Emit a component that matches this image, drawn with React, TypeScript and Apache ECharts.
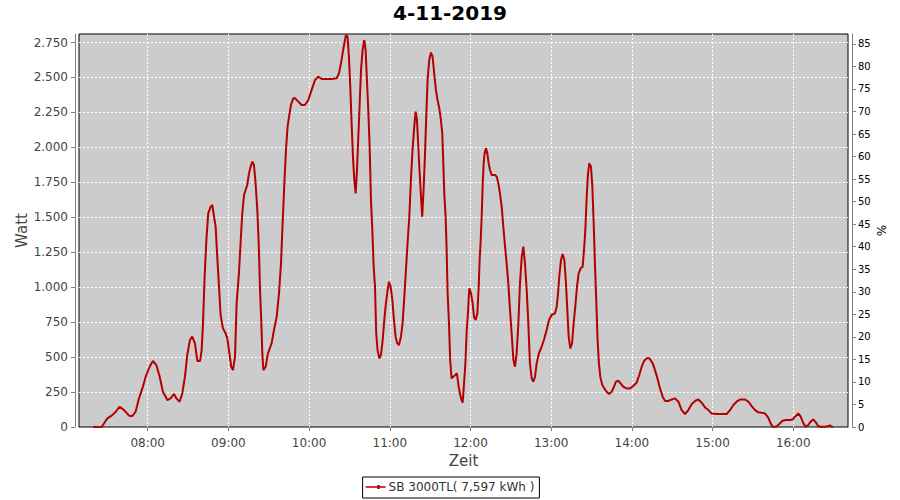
import React, { useEffect, useRef } from 'react';
import * as echarts from 'echarts';

const chartTitle = '4-11-2019';
const seriesName = 'SB 3000TL( 7,597 kWh )';
const xAxisName = 'Zeit';
const leftAxisName = 'Watt';
const rightAxisName = '%';

// minutes since midnight
const timeMinutes = [
  439.3, 445.7, 450, 453.7, 456.2, 459.1, 462.4, 466.1, 468.5, 471,
  473.5, 476, 478.5, 481.4, 483.9, 486.4, 488.9, 491.3, 494.6, 497,
  499.5, 501.3, 503.7, 505.7, 507.7, 509.4, 511.4, 513.1, 515.1, 516.9,
  518.9, 520.1, 521.1, 522.3, 523.6, 525, 526.8, 528, 529.3, 530.5,
  531.7, 533, 534.2, 535.9, 537.9, 539.2, 540.9, 542.1, 543.4, 544.9,
  546.1, 547.8, 549.1, 550.3, 551.6, 552.8, 554, 555.3, 556.5, 557.8,
  559, 560.2, 561.5, 562.7, 563.5, 564.5, 565.2, 566, 567.7, 569.4,
  572.1, 573.9, 575.9, 577.6, 579.1, 580.3, 581.6, 582.8, 584, 585.3,
  586.5, 588.2, 589.5, 592, 594.4, 596.9, 599.4, 601.9, 604.4, 606.8,
  609.3, 613, 616.7, 620.5, 622.2, 623.7, 624.9, 626.2, 627.4, 628.6,
  629.6, 630.6, 631.6, 632.6, 633.6, 634.6, 635.6, 636.6, 637.6, 638.6,
  639.8, 641, 642, 643, 644, 645, 646, 647, 648, 649,
  649.9, 650.9, 652.2, 653.4, 654.7, 655.9, 657.1, 658.4, 659.4, 660.6,
  661.9, 663.1, 664.3, 665.6, 666.8, 668.3, 669.5, 670.8, 672, 673.2,
  674.5, 675.7, 676.9, 678.2, 679.2, 680.2, 681.2, 682.2, 683.2, 684.1,
  685.1, 686.1, 687.1, 688.1, 689.3, 690.6, 691.8, 693, 694.3, 695.5,
  696.8, 698, 699, 699.8, 700.5, 701.5, 702.2, 703, 704, 704.9,
  705.9, 707.2, 708.7, 709.9, 711.2, 712.4,
  713.4, 714.2, 715.2, 716.2, 717.2, 718.1, 719.1, 720.4, 721.6, 722.6,
  723.8, 725.1, 726.1, 726.8, 727.6, 728.3, 729.1, 729.8, 730.5, 731.5,
  732.5, 733.5, 734.5, 735.7, 738.2, 739.5, 740.7, 741.9, 743.2, 744.4,
  745.7, 746.9, 748.1, 749.4, 750.6, 751.9, 753.1, 754.3, 755.6, 756.8,
  758.1, 759.3, 760.5, 761.8, 763, 764.2, 765.5, 766.7, 768, 769.2,
  770.9, 772.9, 774.6, 776.6, 778.4, 780.3, 782.8, 784.1, 785.1, 786,
  787.3, 788.5, 789.8, 791, 792, 793, 794.2, 795.5, 796.7, 797.9,
  799.2, 800.4, 801.9, 803.4, 804.4, 805.4, 806.4, 807.4, 808.3, 809.6,
  810.6, 811.6, 812.6, 813.6, 814.5, 815.5, 816.5, 818, 819.5, 821.2,
  823, 825, 826.7, 828.2, 829.9, 831.6, 833.6, 836.1, 838.6, 841,
  843.5, 845.5, 847.3, 849, 851, 853, 854.7,
  855.5, 857.2, 859, 860.9, 862.9, 864.7, 867.1, 869.6, 872.1, 874.6,
  877, 879.5, 882, 884.5, 887, 889.4, 891.9, 894.4, 896.9, 899.3,
  903.1, 906.8, 910.5, 913, 915.5, 917.9, 920.4, 924.1, 926.6, 929.1,
  931.6, 934, 936.5, 939, 941.5, 943.2, 944.7, 947.2, 949.6, 952.1,
  954.6, 957.6, 959.6, 961.3, 963.8, 965.5, 967.5, 969.2, 971.2, 972.9,
  974.9, 976.9, 978.6, 980.4, 983.6, 986.1, 987.3, 988.6, 989.8
];

const wattValues = [
  0, 0, 62, 85, 109, 145, 121, 81, 78, 109,
  205, 276, 360, 431, 472, 443, 360, 252, 193, 205,
  236, 205, 181, 240, 360, 515, 622, 646, 598, 472,
  472, 550, 741, 1075, 1337, 1528, 1576, 1588, 1504, 1433,
  1218, 1004, 801, 706, 670, 634, 515, 431, 407, 503,
  884, 1099, 1326, 1528, 1659, 1695, 1731, 1814, 1862, 1898,
  1874, 1743, 1552, 1266, 980, 741, 527, 407, 431, 527,
  598, 694, 789, 956, 1170, 1457, 1743, 1981, 2148, 2232,
  2303, 2351, 2351, 2327, 2303, 2303, 2339, 2411, 2482, 2506,
  2489, 2489, 2489, 2494, 2530, 2601, 2673, 2745, 2804, 2792,
  2649, 2435, 2172, 1934, 1767, 1671, 1838, 2077, 2315, 2554,
  2697, 2768, 2697, 2482, 2268, 2005, 1624, 1409, 1147, 1004,
  670, 550, 491, 515, 622, 765, 884, 980, 1039, 1004,
  908, 765, 646, 598, 586, 646, 741, 932, 1123, 1314,
  1504, 1767, 1981, 2148, 2256, 2196, 2005, 1814, 1648, 1504,
  1695, 1934, 2220, 2482, 2625, 2678, 2649, 2530, 2411, 2339,
  2280, 2196, 2101, 1886, 1671, 1504, 1290, 956, 741, 479,
  348, 360, 372, 384, 288, 229,
  193, 174, 312, 455, 694, 813, 992, 956, 884, 789,
  765, 813, 1004, 1194, 1337, 1504, 1743, 1886, 1958, 1993,
  1958, 1886, 1838, 1803, 1803, 1791, 1743, 1671, 1576, 1433,
  1290, 1170, 1027, 837, 670, 479, 431, 527, 741, 1027,
  1218, 1290, 1170, 980, 741, 455, 348, 324, 360, 455,
  527, 574, 622, 694, 765, 801, 813, 860, 956, 1075,
  1194, 1237, 1194, 1027, 837, 646, 562, 598, 741, 860,
  1004, 1099, 1135, 1147, 1266, 1409, 1648, 1814, 1886, 1862,
  1719, 1457, 1147, 884, 622, 455, 360, 300, 276, 252,
  236, 252, 288, 324, 331, 312, 288, 276, 276, 293,
  317, 372, 431, 472, 491, 491, 467,
  455, 407, 348, 276, 217, 186, 186, 197, 205, 181,
  121, 93, 121, 164, 186, 197, 174, 140, 121, 97,
  93, 93, 93, 121, 157, 181, 197, 197, 181, 150,
  121, 105, 102, 97, 66, 26, 2, 2, 21, 45,
  50, 50, 54, 74, 97, 74, 26, 2, 14, 38,
  54, 31, 7, 2, 2, 7, 12, 2, 2
];

const hourTicks = [480, 540, 600, 660, 720, 780, 840, 900, 960];
const wattTicks = [0, 250, 500, 750, 1000, 1250, 1500, 1750, 2000, 2250, 2500, 2750];
const percentTicks = [0, 5, 10, 15, 20, 25, 30, 35, 40, 45, 50, 55, 60, 65, 70, 75, 80, 85];

const pad2 = (n: number) => (n < 10 ? '0' + n : String(n));
const fmtTime = (m: number) => {
  const total = Math.round(m);
  return pad2(Math.floor(total / 60)) + ':' + pad2(total % 60);
};
const fmtWatt = (v: number) => String(Math.round(v)).replace(/\B(?=(\d{3})+(?!\d))/g, '.');

export default function App() {
  const ref = useRef<HTMLDivElement>(null);

  useEffect(() => {
    document.body.style.margin = '0';
    if (!ref.current) return;
    const chart = echarts.init(ref.current, null, { renderer: 'svg' });
    const data = timeMinutes.map((t, i) => [t, wattValues[i]]);
    const axisGray = '#808080';
    chart.setOption({
      animation: false,
      backgroundColor: '#ffffff',
      textStyle: { fontFamily: 'DejaVu Sans' },
      title: {
        text: chartTitle,
        left: 'center',
        top: 0,
        padding: [3, 5, 5, 5],
        textStyle: { fontSize: 20, fontWeight: 'bold', color: '#000', fontFamily: 'DejaVu Sans' },
      },
      legend: {
        data: [seriesName],
        left: 'center',
        top: 477,
        padding: [4, 5, 5, 3],
        borderColor: '#000',
        borderWidth: 1,
        borderRadius: 0,
        itemWidth: 20,
        itemHeight: 7,
        itemGap: 4,
        icon: 'path://M0 3H24V5H0Z M14 1.5H17V6.5H14Z',
        textStyle: { fontSize: 12, color: '#333', padding: [0, 0, 0, -2] },
      },
      grid: {
        left: 79,
        right: 52,
        top: 34,
        bottom: 73,
        show: true,
        backgroundColor: '#cccccc',
        borderColor: '#000',
        borderWidth: 1,
      },
      xAxis: {
        type: 'value',
        min: 428.9,
        max: 1000.7,
        position: 'bottom',
        offset: 4,
        name: xAxisName,
        nameLocation: 'middle',
        nameGap: 22,
        nameMoveOverlap: false,
        nameTextStyle: { fontSize: 15, color: '#444' },
        axisLine: { show: true, lineStyle: { color: axisGray, width: 1 } },
        axisTick: { show: true, length: 4, lineStyle: { color: axisGray }, customValues: hourTicks },
        axisLabel: { customValues: hourTicks, formatter: fmtTime, fontSize: 12, color: '#444', margin: 6 },
        splitLine: { show: true, lineStyle: { color: '#ffffff', type: [2, 2], width: 1 } },
      },
      yAxis: [
        {
          type: 'value',
          min: 0,
          max: 2811,
          position: 'left',
          offset: 4,
          name: leftAxisName,
          nameLocation: 'middle',
          nameGap: 46,
          nameMoveOverlap: false,
          nameTextStyle: { fontSize: 15, color: '#444' },
          axisLine: { show: true, lineStyle: { color: axisGray, width: 1 } },
          axisTick: { show: true, length: 4, lineStyle: { color: axisGray }, customValues: wattTicks },
          axisLabel: { customValues: wattTicks, formatter: fmtWatt, fontSize: 12, color: '#444', margin: 7 },
          splitLine: { show: true, lineStyle: { color: '#ffffff', type: [2, 2], width: 1 } },
        },
        {
          type: 'value',
          min: 0,
          max: 87.2,
          position: 'right',
          offset: 4,
          name: rightAxisName,
          nameLocation: 'middle',
          nameGap: 24,
          nameMoveOverlap: false,
          nameTextStyle: { fontSize: 12, color: '#000' },
          axisLine: { show: true, lineStyle: { color: axisGray, width: 1 } },
          axisTick: { show: true, length: 4, lineStyle: { color: axisGray }, customValues: percentTicks },
          axisLabel: { customValues: percentTicks, fontSize: 10, color: '#000', margin: 6 },
          splitLine: { show: false },
        },
      ],
      series: [
        {
          name: seriesName,
          type: 'line',
          yAxisIndex: 0,
          data,
          showSymbol: false,
          symbol: 'none',
          color: '#b40000',
          lineStyle: { color: '#b40000', width: 2 },
        },
      ],
    });
    return () => chart.dispose();
  }, []);

  return <div ref={ref} style={{ width: 900, height: 500 }} />;
}
